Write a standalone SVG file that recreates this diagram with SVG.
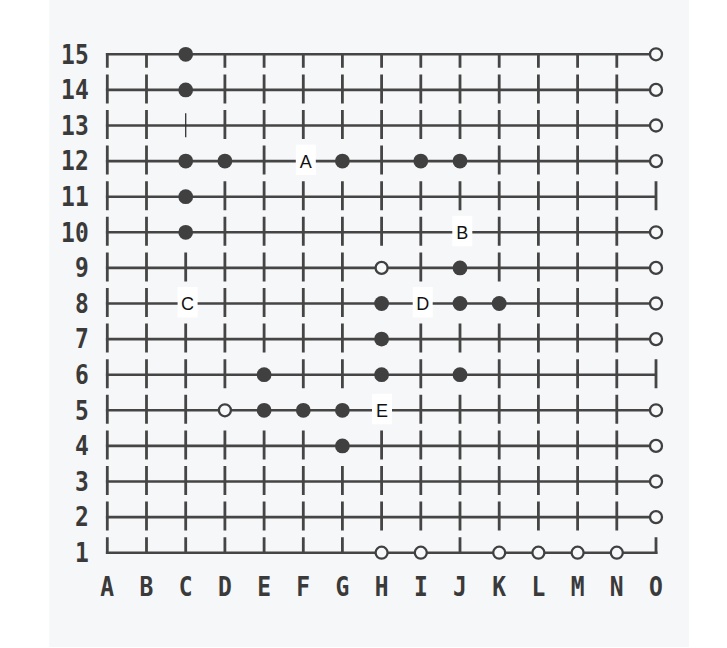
<svg xmlns="http://www.w3.org/2000/svg" width="727" height="648" viewBox="0 0 727 648">
<style>
.h{stroke:#454545;stroke-width:2.6;fill:none}
.t{stroke:#454545;stroke-width:2.8;fill:none}
.b{fill:#404040}
.w{fill:#f7f8fa;stroke:#404040;stroke-width:2.3}
.lb{fill:#ffffff}
.lt{font-family:"Liberation Sans",Arial,sans-serif;font-size:18px;fill:#111;text-anchor:middle}
.ax{font-family:"DejaVu Sans Mono","Liberation Mono",monospace;font-weight:bold;font-size:27px;fill:#3a3a3a}
</style>
<rect x="49.3" y="0" width="639.7" height="647" fill="#f6f7f9"/>
<g id="connectors">
<path class="h" d="M105.9,54.3H656M105.9,89.9H656M105.9,125.5H656M105.9,161.1H656M105.9,196.7H656M105.9,232.3H656M105.9,267.9H656M105.9,303.5H656M105.9,339.1H656M105.9,374.7H656M105.9,410.3H656M105.9,445.9H656M105.9,481.5H656M105.9,517.1H656M105.9,552.7H657.4"/>
<path class="t" d="M107.3,53v14.8M146.5,54.3v13.5M224.9,54.3v13.5M264.1,54.3v13.5M303.3,54.3v13.5M342.4,54.3v13.5M381.6,54.3v13.5M420.8,54.3v13.5M460,54.3v13.5M499.2,54.3v13.5M538.4,54.3v13.5M577.6,54.3v13.5M616.8,54.3v13.5"/>
<path class="t" d="M107.3,74.4v29M146.5,74.4v29M224.9,74.4v29M264.1,74.4v29M303.3,74.4v29M342.4,74.4v29M381.6,74.4v29M420.8,74.4v29M460,74.4v29M499.2,74.4v29M538.4,74.4v29M577.6,74.4v29M616.8,74.4v29"/>
<path class="t" d="M107.3,110v29M146.5,110v29M224.9,110v29M264.1,110v29M303.3,110v29M342.4,110v29M381.6,110v29M420.8,110v29M460,110v29M499.2,110v29M538.4,110v29M577.6,110v29M616.8,110v29"/>
<path d="M185.7,113.3v24" stroke="#333" stroke-width="1.3"/>
<path class="t" d="M107.3,145.6v29M146.5,145.6v29M264.1,145.6v29M381.6,145.6v29M499.2,145.6v29M538.4,145.6v29M577.6,145.6v29M616.8,145.6v29"/>
<path class="t" d="M107.3,181.2v29M146.5,181.2v29M224.9,181.2v29M264.1,181.2v29M303.3,181.2v29M342.4,181.2v29M381.6,181.2v29M420.8,181.2v29M460,181.2v29M499.2,181.2v29M538.4,181.2v29M577.6,181.2v29M616.8,181.2v29M656,181.2v29"/>
<path class="t" d="M107.3,216.8v29M146.5,216.8v29M224.9,216.8v29M264.1,216.8v29M303.3,216.8v29M342.4,216.8v29M381.6,216.8v29M420.8,216.8v29M499.2,216.8v29M538.4,216.8v29M577.6,216.8v29M616.8,216.8v29"/>
<path class="t" d="M107.3,252.4v29M146.5,252.4v29M185.7,252.4v29M224.9,252.4v29M264.1,252.4v29M303.3,252.4v29M342.4,252.4v29M420.8,252.4v29M499.2,252.4v29M538.4,252.4v29M577.6,252.4v29M616.8,252.4v29"/>
<path class="t" d="M107.3,288v29M146.5,288v29M224.9,288v29M264.1,288v29M303.3,288v29M342.4,288v29M538.4,288v29M577.6,288v29M616.8,288v29"/>
<path class="t" d="M107.3,323.6v29M146.5,323.6v29M185.7,323.6v29M224.9,323.6v29M264.1,323.6v29M303.3,323.6v29M342.4,323.6v29M420.8,323.6v29M460,323.6v29M499.2,323.6v29M538.4,323.6v29M577.6,323.6v29M616.8,323.6v29"/>
<path class="t" d="M107.3,359.2v29M146.5,359.2v29M185.7,359.2v29M224.9,359.2v29M303.3,359.2v29M342.4,359.2v29M420.8,359.2v29M499.2,359.2v29M538.4,359.2v29M577.6,359.2v29M616.8,359.2v29M656,359.2v29"/>
<path class="t" d="M107.3,394.8v29M146.5,394.8v29M185.7,394.8v29M420.8,394.8v29M460,394.8v29M499.2,394.8v29M538.4,394.8v29M577.6,394.8v29M616.8,394.8v29"/>
<path class="t" d="M107.3,430.4v29M146.5,430.4v29M185.7,430.4v29M224.9,430.4v29M264.1,430.4v29M303.3,430.4v29M381.6,430.4v29M420.8,430.4v29M460,430.4v29M499.2,430.4v29M538.4,430.4v29M577.6,430.4v29M616.8,430.4v29"/>
<path class="t" d="M107.3,466v29M146.5,466v29M185.7,466v29M224.9,466v29M264.1,466v29M303.3,466v29M342.4,466v29M381.6,466v29M420.8,466v29M460,466v29M499.2,466v29M538.4,466v29M577.6,466v29M616.8,466v29"/>
<path class="t" d="M107.3,501.6v29M146.5,501.6v29M185.7,501.6v29M224.9,501.6v29M264.1,501.6v29M303.3,501.6v29M342.4,501.6v29M381.6,501.6v29M420.8,501.6v29M460,501.6v29M499.2,501.6v29M538.4,501.6v29M577.6,501.6v29M616.8,501.6v29"/>
<path class="t" d="M107.3,537.2v16.8M146.5,537.2v15.5M185.7,537.2v15.5M224.9,537.2v15.5M264.1,537.2v15.5M303.3,537.2v15.5M342.4,537.2v15.5M460,537.2v15.5M656,537.2v16.8"/>
</g>
<g id="stones">
<g id="s-C15"><circle class="b" cx="185.7" cy="54.3" r="7.4"/></g>
<g id="s-O15"><circle class="w" cx="656" cy="54.3" r="6"/></g>
<g id="s-C14"><circle class="b" cx="185.7" cy="89.9" r="7.4"/></g>
<g id="s-O14"><circle class="w" cx="656" cy="89.9" r="6"/></g>
<g id="s-O13"><circle class="w" cx="656" cy="125.5" r="6"/></g>
<g id="s-C12"><circle class="b" cx="185.7" cy="161.1" r="7.4"/></g>
<g id="s-D12"><circle class="b" cx="224.9" cy="161.1" r="7.4"/></g>
<g id="s-G12"><circle class="b" cx="342.4" cy="161.1" r="7.4"/></g>
<g id="s-I12"><circle class="b" cx="420.8" cy="161.1" r="7.4"/></g>
<g id="s-J12"><circle class="b" cx="460" cy="161.1" r="7.4"/></g>
<g id="s-O12"><circle class="w" cx="656" cy="161.1" r="6"/></g>
<g id="s-C11"><circle class="b" cx="185.7" cy="196.7" r="7.4"/></g>
<g id="s-C10"><circle class="b" cx="185.7" cy="232.3" r="7.4"/></g>
<g id="s-O10"><circle class="w" cx="656" cy="232.3" r="6"/></g>
<g id="s-H9"><circle class="w" cx="381.6" cy="267.9" r="6"/></g>
<g id="s-J9"><circle class="b" cx="460" cy="267.9" r="7.4"/></g>
<g id="s-O9"><circle class="w" cx="656" cy="267.9" r="6"/></g>
<g id="s-H8"><circle class="b" cx="381.6" cy="303.5" r="7.4"/></g>
<g id="s-J8"><circle class="b" cx="460" cy="303.5" r="7.4"/></g>
<g id="s-K8"><circle class="b" cx="499.2" cy="303.5" r="7.4"/></g>
<g id="s-O8"><circle class="w" cx="656" cy="303.5" r="6"/></g>
<g id="s-H7"><circle class="b" cx="381.6" cy="339.1" r="7.4"/></g>
<g id="s-O7"><circle class="w" cx="656" cy="339.1" r="6"/></g>
<g id="s-E6"><circle class="b" cx="264.1" cy="374.7" r="7.4"/></g>
<g id="s-H6"><circle class="b" cx="381.6" cy="374.7" r="7.4"/></g>
<g id="s-J6"><circle class="b" cx="460" cy="374.7" r="7.4"/></g>
<g id="s-D5"><circle class="w" cx="224.9" cy="410.3" r="6"/></g>
<g id="s-E5"><circle class="b" cx="264.1" cy="410.3" r="7.4"/></g>
<g id="s-F5"><circle class="b" cx="303.3" cy="410.3" r="7.4"/></g>
<g id="s-G5"><circle class="b" cx="342.4" cy="410.3" r="7.4"/></g>
<g id="s-O5"><circle class="w" cx="656" cy="410.3" r="6"/></g>
<g id="s-G4"><circle class="b" cx="342.4" cy="445.9" r="7.4"/></g>
<g id="s-O4"><circle class="w" cx="656" cy="445.9" r="6"/></g>
<g id="s-O3"><circle class="w" cx="656" cy="481.5" r="6"/></g>
<g id="s-O2"><circle class="w" cx="656" cy="517.1" r="6"/></g>
<g id="s-H1"><circle class="w" cx="381.6" cy="552.7" r="6"/></g>
<g id="s-I1"><circle class="w" cx="420.8" cy="552.7" r="6"/></g>
<g id="s-K1"><circle class="w" cx="499.2" cy="552.7" r="6"/></g>
<g id="s-L1"><circle class="w" cx="538.4" cy="552.7" r="6"/></g>
<g id="s-M1"><circle class="w" cx="577.6" cy="552.7" r="6"/></g>
<g id="s-N1"><circle class="w" cx="616.8" cy="552.7" r="6"/></g>
</g>
<g id="label-A"><rect class="lb" x="295.8" y="144.6" width="20" height="30.5"/><text class="lt" x="305.8" y="167.6">A</text></g>
<g id="label-B"><rect class="lb" x="452.3" y="215.8" width="20" height="30.5"/><text class="lt" x="462.3" y="238.8">B</text></g>
<g id="label-C"><rect class="lb" x="177.6" y="287" width="20" height="30.5"/><text class="lt" x="187.6" y="310">C</text></g>
<g id="label-D"><rect class="lb" x="412.7" y="287" width="20" height="30.5"/><text class="lt" x="422.7" y="310">D</text></g>
<g id="label-E"><rect class="lb" x="372" y="393.8" width="20" height="30.5"/><text class="lt" x="382" y="416.8">E</text></g>
<g id="row-labels" class="ax" transform="scale(0.85,1)" text-anchor="end">
<text x="104.4" y="63.6">15</text>
<text x="104.4" y="99.2">14</text>
<text x="104.4" y="134.8">13</text>
<text x="104.4" y="170.4">12</text>
<text x="104.4" y="206">11</text>
<text x="104.4" y="241.6">10</text>
<text x="104.4" y="277.2">9</text>
<text x="104.4" y="312.8">8</text>
<text x="104.4" y="348.4">7</text>
<text x="104.4" y="384">6</text>
<text x="104.4" y="419.6">5</text>
<text x="104.4" y="455.2">4</text>
<text x="104.4" y="490.8">3</text>
<text x="104.4" y="526.4">2</text>
<text x="104.4" y="562">1</text>
</g>
<g id="col-labels" class="ax" transform="scale(0.85,1)" text-anchor="middle">
<text x="126.2" y="596">A</text>
<text x="172.4" y="596">B</text>
<text x="218.5" y="596">C</text>
<text x="264.6" y="596">D</text>
<text x="310.7" y="596">E</text>
<text x="356.8" y="596">F</text>
<text x="402.8" y="596">G</text>
<text x="448.9" y="596">H</text>
<text x="495.1" y="596">I</text>
<text x="541.2" y="596">J</text>
<text x="587.3" y="596">K</text>
<text x="633.4" y="596">L</text>
<text x="679.5" y="596">M</text>
<text x="725.6" y="596">N</text>
<text x="771.8" y="596">O</text>
</g>
</svg>
